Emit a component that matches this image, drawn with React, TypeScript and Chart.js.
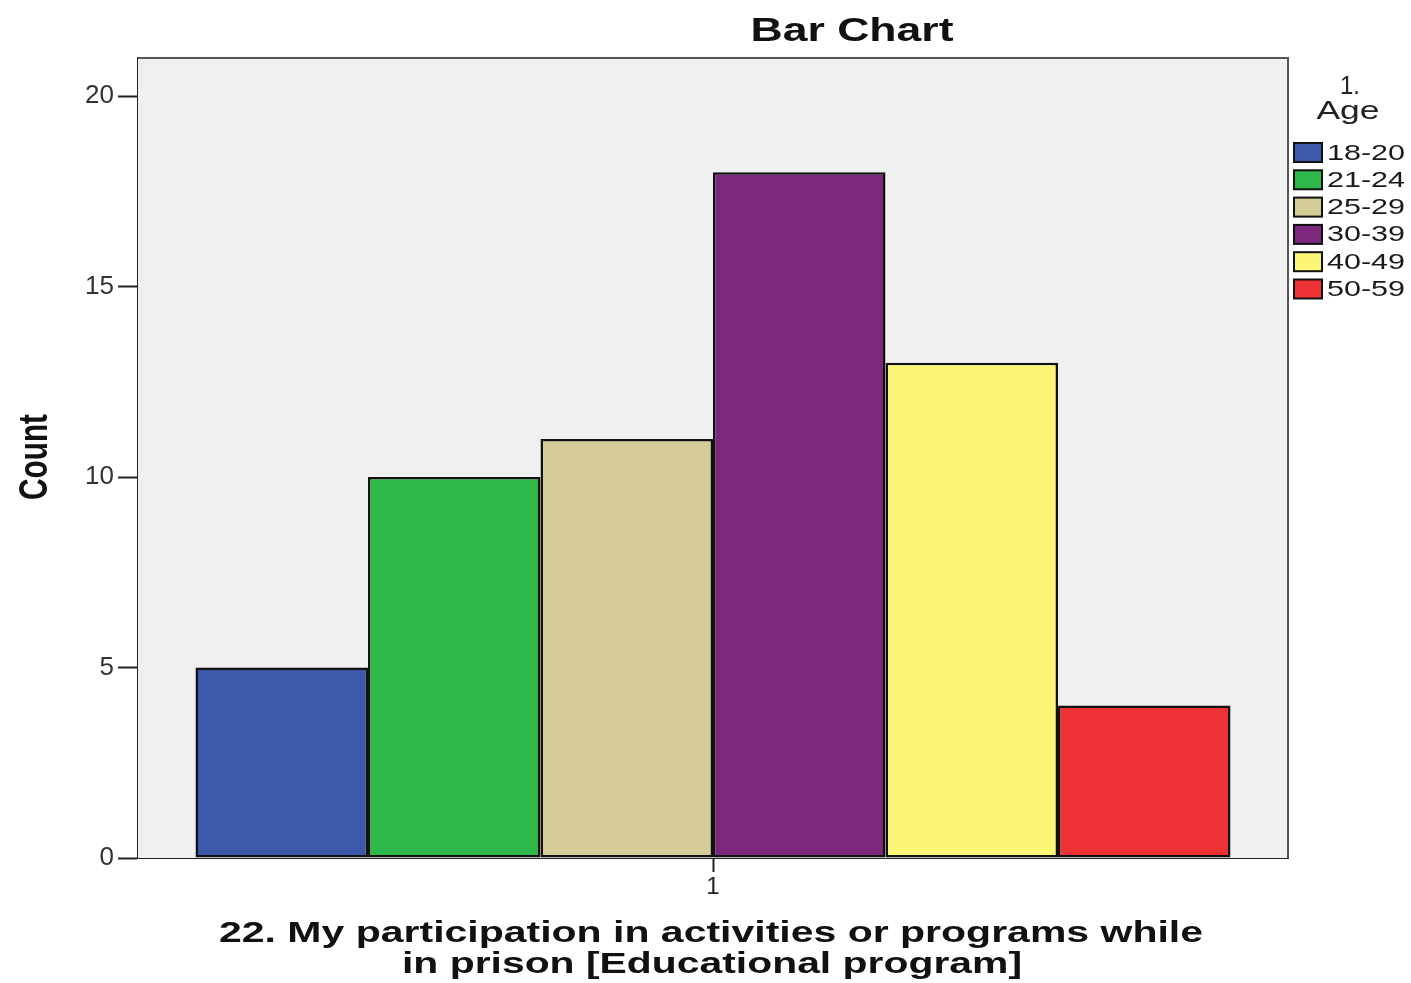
import React, { useEffect, useRef } from "react";
import { Chart, registerables } from "chart.js";

Chart.register(...registerables);

const categories = ["1"];
const ageGroups = ["18-20", "21-24", "25-29", "30-39", "40-49", "50-59"];
const counts = [5, 10, 11, 18, 13, 4];
const colors = ["#3d58ab", "#2fb84a", "#d4cd98", "#7b287c", "#fcf677", "#ed3135"];
const yTicks = [0, 5, 10, 15, 20];
const chartTitle = "Bar Chart";
const yTitle = "Count";
const xTitleLines = ["22. My participation in activities or programs while", "in prison [Educational program]"];
const legendTitleLines = ["1.", "Age"];

const FONT = '"Liberation Sans", Arial, sans-serif';

function drawFitted(
  ctx: CanvasRenderingContext2D,
  text: string,
  x: number,
  y: number,
  font: string,
  targetWidth: number,
  align: CanvasTextAlign,
  color: string,
  rotate = false,
  sy = 1
) {
  ctx.save();
  ctx.font = font;
  const w = ctx.measureText(text).width;
  const sx = targetWidth / w;
  ctx.translate(x, y);
  if (rotate) ctx.rotate(-Math.PI / 2);
  ctx.scale(sx, sy);
  ctx.textAlign = align;
  ctx.textBaseline = "middle";
  ctx.fillStyle = color;
  ctx.fillText(text, 0, 0);
  ctx.restore();
}

const decorPlugin = {
  id: "decor",
  beforeDatasetsDraw(chart: any) {
    const { ctx, chartArea } = chart;
    const { left, right, top, bottom } = chartArea;
    ctx.save();
    ctx.fillStyle = "#f0f0f0";
    ctx.fillRect(left, top, right - left, bottom - top);
    ctx.strokeStyle = "#555555";
    ctx.lineWidth = 2;
    ctx.beginPath();
    ctx.moveTo(left, top);
    ctx.lineTo(right, top);
    ctx.lineTo(right, bottom);
    ctx.stroke();
    ctx.restore();
  },
  afterDraw(chart: any) {
    const { ctx } = chart;
    // Title
    drawFitted(ctx, chartTitle, 852, 32, `bold 34px ${FONT}`, 203, "center", "#111");
    // Y title
    drawFitted(ctx, yTitle, 36, 457, `bold 28px ${FONT}`, 86, "center", "#111", true, 1.45);
    // X title
    drawFitted(ctx, xTitleLines[0], 711, 934, `bold 29px ${FONT}`, 984, "center", "#111");
    drawFitted(ctx, xTitleLines[1], 712, 965, `bold 29px ${FONT}`, 620, "center", "#111");
    // Legend title
    drawFitted(ctx, legendTitleLines[0], 1350, 87, `25px ${FONT}`, 20, "center", "#222");
    drawFitted(ctx, legendTitleLines[1], 1348, 112, `25px ${FONT}`, 63, "center", "#222");
    // Legend items
    ctx.save();
    const rowH = 27.3;
    ageGroups.forEach((g, i) => {
      const cy = 152.5 + i * rowH;
      ctx.fillStyle = colors[i];
      ctx.fillRect(1294, cy - 9.5, 28, 19);
      ctx.strokeStyle = "#111";
      ctx.lineWidth = 2;
      ctx.strokeRect(1294, cy - 9.5, 28, 19);
      drawFitted(ctx, g, 1327, cy + 1, `22px ${FONT}`, 78, "left", "#1a1a1a");
    });
    ctx.restore();
  },
};

export default function App() {
  const ref = useRef<HTMLCanvasElement | null>(null);
  useEffect(() => {
    if (!ref.current) return;
    const chart = new Chart(ref.current, {
      type: "bar",
      data: {
        labels: categories,
        datasets: ageGroups.map((g, i) => ({
          label: g,
          data: [counts[i]],
          backgroundColor: colors[i],
          borderColor: "#111111",
          borderWidth: 2.5,
          borderSkipped: false,
          barPercentage: 1,
          categoryPercentage: 0.9,
        })),
      },
      options: {
        responsive: false,
        animation: false,
        layout: { padding: { top: 58, right: 123, left: 0, bottom: 0 } },
        plugins: {
          legend: { display: false },
          title: { display: false },
          tooltip: { enabled: false },
        },
        scales: {
          x: {
            grid: {
              display: true,
              drawOnChartArea: false,
              offset: false,
              tickLength: 14,
              tickColor: "#222",
              tickWidth: 2,
            },
            border: { display: true, color: "#222", width: 2 },
            ticks: { color: "#222", font: { family: FONT, size: 24 }, padding: 1 },
            afterFit(scale: any) {
              scale.height = 125;
            },
          },
          y: {
            min: 0,
            max: 21,
            afterBuildTicks(scale: any) {
              scale.ticks = yTicks.map((v) => ({ value: v }));
            },
            grid: {
              display: true,
              drawOnChartArea: false,
              tickLength: 20,
              tickColor: "#222",
              tickWidth: 2,
            },
            border: { display: true, color: "#222", width: 2 },
            ticks: { color: "#333", font: { family: FONT, size: 26 }, padding: 4 },
            afterFit(scale: any) {
              scale.width = 138;
            },
          },
        },
      },
      plugins: [decorPlugin],
    });
    return () => chart.destroy();
  }, []);
  return (
    <div style={{ position: "absolute", left: 0, top: 0, width: 1411, height: 983 }}>
      <canvas ref={ref} width={1411} height={983} style={{ display: "block" }} />
    </div>
  );
}
